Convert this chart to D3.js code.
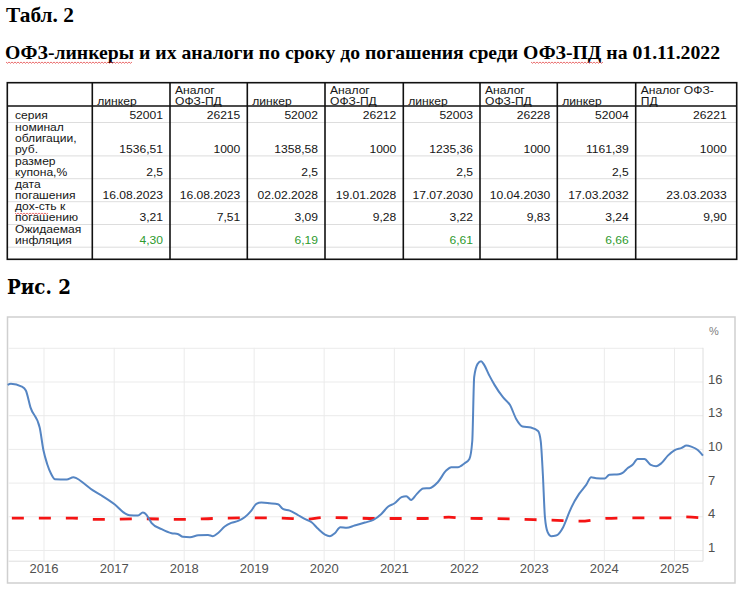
<!DOCTYPE html>
<html>
<head>
<meta charset="utf-8">
<script src="https://cdn.jsdelivr.net/npm/d3@7"></script>
<style>
  body { margin: 0; background: #fff; }
  svg { display: block; }
</style>
</head>
<body>
<script>
//Table data
var headerLines = [["линкер"], ["Аналог", "ОФЗ-ПД"], ["линкер"], ["Аналог", "ОФЗ-ПД"],
  ["линкер"], ["Аналог", "ОФЗ-ПД"], ["линкер"], ["Аналог ОФЗ-", "ПД"]];
var rowLabels = [["серия"], ["номинал", "облигации,", "руб."], ["размер", "купона,%"],
  ["дата", "погашения"], ["дох-сть к", "погашению"], ["Ожидаемая", "инфляция"]];
var seriesCodes = ["52001", "26215", "52002", "26212", "52003", "26228", "52004", "26221"];
var nominals = ["1536,51", "1000", "1358,58", "1000", "1235,36", "1000", "1161,39", "1000"];
var coupons = ["2,5", "", "2,5", "", "2,5", "", "2,5", ""];
var maturities = ["16.08.2023", "16.08.2023", "02.02.2028", "19.01.2028", "17.07.2030", "10.04.2030", "17.03.2032", "23.03.2033"];
var yields = ["3,21", "7,51", "3,09", "9,28", "3,22", "9,83", "3,24", "9,90"];
var expInflation = ["4,30", "", "6,19", "", "6,61", "", "6,66", ""];

//Chart data
var blueDates = ["2015-06-28", "2015-07-15", "2015-09-10", "2015-10-01", "2015-10-25", "2015-12-12",
  "2016-01-01", "2016-01-20", "2016-02-10", "2016-03-01", "2016-05-01", "2016-06-05", "2016-06-20",
  "2016-08-01", "2016-09-15", "2016-10-30", "2017-01-07", "2017-02-28", "2017-03-25", "2017-05-08",
  "2017-06-02", "2017-06-20", "2017-07-03", "2017-07-18", "2017-09-08", "2017-10-30", "2017-12-01",
  "2017-12-28", "2018-02-03", "2018-03-18", "2018-05-08", "2018-06-02", "2018-06-28", "2018-08-03",
  "2018-09-06", "2018-10-12", "2018-11-15", "2018-12-20", "2019-01-15", "2019-02-10", "2019-03-25",
  "2019-05-08", "2019-06-02", "2019-07-08", "2019-08-18", "2019-09-24", "2019-10-30", "2019-12-03",
  "2020-01-08", "2020-02-03", "2020-02-28", "2020-03-28", "2020-04-30", "2020-06-10", "2020-08-03",
  "2020-09-16", "2020-10-28", "2020-12-03", "2021-01-05", "2021-02-10", "2021-03-07", "2021-04-01",
  "2021-04-28", "2021-06-03", "2021-07-06", "2021-08-18", "2021-10-01", "2021-10-27", "2021-12-01",
  "2022-01-05", "2022-01-30", "2022-02-14", "2022-02-24", "2022-03-14", "2022-04-01", "2022-04-16",
  "2022-05-15", "2022-06-10", "2022-07-24", "2022-08-30", "2022-10-01", "2022-11-03", "2022-12-17",
  "2023-01-23", "2023-02-06", "2023-02-17", "2023-02-28", "2023-03-14", "2023-04-01", "2023-04-27",
  "2023-06-03", "2023-07-05", "2023-07-16", "2023-08-25", "2023-10-01", "2023-10-27", "2023-11-22",
  "2024-01-05", "2024-01-30", "2024-03-20", "2024-04-08", "2024-05-05", "2024-05-30", "2024-06-25",
  "2024-07-31", "2024-09-02", "2024-09-30", "2024-10-27", "2024-11-30", "2025-01-05", "2025-02-10",
  "2025-03-07", "2025-04-01", "2025-05-05", "2025-06-01"];
var blueValues = [15.7, 15.8, 15.55, 15.2, 13.7, 11.9,
  9.85, 8.66, 7.77, 7.3, 7.27, 7.48, 7.4,
  6.9, 6.3, 5.85, 5.05, 4.27, 4.1, 4.07,
  4.33, 4.15, 3.8, 3.4, 2.85, 2.49, 2.43,
  2.17, 2.14, 2.31, 2.34, 2.23, 2.49, 3.09,
  3.41, 3.59, 3.92, 4.51, 5.1, 5.22, 5.16,
  5.07, 4.66, 4.5, 4.12, 3.77, 3.47, 2.88,
  2.37, 2.23, 2.49, 3.03, 2.97, 3.18, 3.44,
  3.68, 4.21, 4.87, 5.16, 5.7, 5.79, 5.46,
  5.93, 6.47, 6.5, 7.03, 8.07, 8.37, 8.37,
  8.72, 9.1, 10.7, 16.4, 17.57, 17.8, 17.5,
  16.5, 15.7, 14.6, 13.9, 12.67, 12.0, 11.9,
  11.6, 10.7, 7.77, 3.9, 2.58, 2.23, 2.28,
  3.03, 4.36, 4.8, 5.99, 6.8, 7.48, 7.39,
  7.36, 7.69, 7.74, 7.86, 8.3, 8.58, 9.1,
  9.1, 8.58, 8.46, 8.72, 9.4, 9.9, 10.09,
  10.3, 10.2, 9.9, 9.4];

var redDates = ["2015-07-20", "2016-06-01", "2016-10-01", "2017-06-01", "2018-01-01", "2018-06-01",
  "2019-01-01", "2019-06-01", "2019-10-01", "2020-01-01", "2020-06-01", "2020-10-01", "2021-06-01",
  "2021-10-15", "2022-01-01", "2022-09-01", "2023-01-01", "2023-06-01", "2023-09-01", "2024-01-01",
  "2024-06-01", "2025-01-01", "2025-02-01", "2025-06-01"];
var redValues = [3.83, 3.84, 3.72, 3.78, 3.72, 3.8,
  3.86, 3.83, 3.74, 3.9, 3.85, 3.8, 3.8,
  3.92, 3.83, 3.77, 3.7, 3.62, 3.56, 3.8,
  3.86, 3.86, 3.95, 3.85];

var xTickLabels = ["2016", "2017", "2018", "2019", "2020", "2021", "2022", "2023", "2024", "2025"];
var yTickLabels = [1, 4, 7, 10, 13, 16];

//Width and height
var w = 747;
var h = 592;

var svg = d3.select("body").append("svg").attr("width", w).attr("height", h);

//Spell-check squiggle under a word
var squiggle = function (x1, x2, yy) {
  var p = d3.path();
  p.moveTo(x1, yy);
  for (var xx = x1, k = 0; xx < x2; xx += 1.5, k++) {
    p.lineTo(xx + 1.5, yy + (k % 2 ? 0 : 1.3));
  }
  svg.append("path").attr("d", p.toString()).attr("fill", "none")
    .attr("stroke", "#e03030").attr("stroke-width", 0.7);
};

//Titles
svg.append("text")
  .attr("x", 6).attr("y", 22)
  .attr("font-family", "Liberation Serif").attr("font-weight", "bold")
  .attr("font-size", 21).attr("textLength", 68).attr("lengthAdjust", "spacingAndGlyphs")
  .text("Табл. 2");

svg.append("text")
  .attr("x", 5).attr("y", 59)
  .attr("font-family", "Liberation Serif").attr("font-weight", "bold")
  .attr("font-size", 19).attr("textLength", 715).attr("lengthAdjust", "spacingAndGlyphs")
  .text("ОФЗ-линкеры и их аналоги по сроку до погашения среди ОФЗ-ПД на 01.11.2022");
squiggle(6, 131, 62);
squiggle(531, 603, 62);

svg.append("text")
  .attr("x", 7).attr("y", 294)
  .attr("font-family", "DejaVu Serif").attr("font-weight", "bold")
  .attr("font-size", 21).attr("textLength", 64).attr("lengthAdjust", "spacingAndGlyphs")
  .text("Рис. 2");

//Table layout
var colX = [7.3, 92.3, 170, 247.3, 325, 403.3, 480, 557.3, 635.7, 736.7];
var tableTop = 82.7, headerBottom = 106, tableBottom = 259.3;
var lastBaselines = [119.3, 152.7, 175.5, 198.5, 221.3, 244];
var lineStep = 11;
var stretch = 1.1;
var tableRows = [seriesCodes, nominals, coupons, maturities, yields, expInflation];

var table = svg.append("g")
  .attr("font-family", "Liberation Sans, Arial, sans-serif")
  .attr("font-size", 11)
  .attr("fill", "#151515");

//Text placed with a slight horizontal stretch, like the source sheet
var cellText = function (tx, ty, s) {
  return table.append("text")
    .attr("transform", "translate(" + tx + "," + ty + ") scale(" + stretch + ",1)")
    .text(s);
};

//Row separators
table.selectAll("line.rowsep")
  .data(lastBaselines)
  .enter()
  .append("line")
  .attr("class", "rowsep")
  .attr("x1", colX[0]).attr("x2", colX[colX.length - 1])
  .attr("y1", function (d) { return d + 3.2; })
  .attr("y2", function (d) { return d + 3.2; })
  .attr("stroke", "#d4d4d4").attr("stroke-width", 0.8);

//Header line
table.append("line")
  .attr("x1", colX[0]).attr("x2", colX[colX.length - 1])
  .attr("y1", headerBottom).attr("y2", headerBottom)
  .attr("stroke", "#111").attr("stroke-width", 1.6);

//Column lines
table.selectAll("line.colsep")
  .data(colX.slice(1, -1))
  .enter()
  .append("line")
  .attr("class", "colsep")
  .attr("x1", function (d) { return d; })
  .attr("x2", function (d) { return d; })
  .attr("y1", tableTop).attr("y2", tableBottom)
  .attr("stroke", "#111").attr("stroke-width", 1.6);

//Outer border
table.append("rect")
  .attr("x", colX[0]).attr("y", tableTop)
  .attr("width", colX[colX.length - 1] - colX[0])
  .attr("height", tableBottom - tableTop)
  .attr("fill", "none").attr("stroke", "#111").attr("stroke-width", 1.6);

//Header texts
headerLines.forEach(function (lines, i) {
  lines.forEach(function (t, j) {
    cellText(colX[i + 1] + 5, 104.5 - (lines.length - 1 - j) * 10.5, t);
  });
});

//Row labels
rowLabels.forEach(function (lines, r) {
  lines.forEach(function (t, j) {
    cellText(15, lastBaselines[r] - (lines.length - 1 - j) * lineStep, t);
  });
});
squiggle(15, 48, 213);

//Values
tableRows.forEach(function (vals, r) {
  vals.forEach(function (d, i) {
    if (!d) return;
    cellText(colX[i + 2] - (i === vals.length - 1 ? 10 : 7), lastBaselines[r], d)
      .attr("text-anchor", "end")
      .attr("fill", r === 5 ? "#2d9a2d" : "#151515");
  });
});

//Chart frame
svg.append("rect")
  .attr("x", 7.5).attr("y", 317)
  .attr("width", 727.5).attr("height", 266)
  .attr("fill", "none").attr("stroke", "#cfcfcf").attr("stroke-width", 1.5);

var plotLeft = 8.5, plotRight = 703, plotTop = 347.8, plotBottom = 561.2;

var parseDate = d3.timeParse("%Y-%m-%d");
var yearDates = xTickLabels.map(function (s) { return parseDate(s + "-01-01"); });

//Create scale functions
var xScale = d3.scaleTime()
  .domain([yearDates[0], yearDates[yearDates.length - 1]])
  .range([43.5, 674]);
var yScale = d3.scaleLinear()
  .domain([0, 19])
  .range([plotBottom, plotTop]);

//Grid
svg.append("g")
  .attr("class", "grid")
  .attr("transform", "translate(0," + plotBottom + ")")
  .call(d3.axisBottom(xScale).tickValues(yearDates).tickSize(-(plotBottom - plotTop)).tickFormat(""))
  .call(function (g) { g.select(".domain").remove(); })
  .selectAll("line").attr("stroke", "#ebebeb");

svg.append("g")
  .attr("class", "grid")
  .attr("transform", "translate(" + plotRight + ",0)")
  .call(d3.axisRight(yScale).tickValues(d3.range(1, 20, 3)).tickSize(-(plotRight - plotLeft)).tickFormat(""))
  .call(function (g) { g.select(".domain").remove(); })
  .selectAll("line").attr("stroke", "#ebebeb");

//Axis lines
svg.append("line")
  .attr("x1", plotLeft).attr("x2", plotRight)
  .attr("y1", plotBottom).attr("y2", plotBottom)
  .attr("stroke", "#dedede");
svg.append("line")
  .attr("x1", plotRight).attr("x2", plotRight)
  .attr("y1", plotTop).attr("y2", plotBottom)
  .attr("stroke", "#dedede");

//Define axes
var xAxis = d3.axisBottom(xScale).tickValues(yearDates).tickSize(0).tickPadding(3)
  .tickFormat(function (d, i) { return xTickLabels[i]; });
var yAxis = d3.axisRight(yScale).tickValues(yTickLabels).tickSize(0).tickPadding(5);

svg.append("g")
  .attr("class", "axis")
  .attr("transform", "translate(0," + plotBottom + ")")
  .call(xAxis)
  .call(function (g) { g.select(".domain").remove(); })
  .selectAll("text")
  .attr("font-family", "Liberation Sans, Arial, sans-serif")
  .attr("font-size", 13).attr("fill", "#505050");

svg.append("g")
  .attr("class", "axis")
  .attr("transform", "translate(" + plotRight + ",0)")
  .call(yAxis)
  .call(function (g) { g.select(".domain").remove(); })
  .selectAll("text")
  .attr("dy", "0.12em")
  .attr("font-family", "Liberation Sans, Arial, sans-serif")
  .attr("font-size", 13).attr("fill", "#505050");

svg.append("text")
  .attr("x", 709).attr("y", 335)
  .attr("font-family", "Liberation Sans, Arial, sans-serif")
  .attr("font-size", 11).attr("fill", "#808080")
  .text("%");

//Define line generator
var line = d3.line()
  .x(function (d) { return xScale(d.date); })
  .y(function (d) { return yScale(d.value); })
  .curve(d3.curveMonotoneX);

var blueData = blueDates.map(function (s, i) { return { date: parseDate(s), value: blueValues[i] }; });
var redData = redDates.map(function (s, i) { return { date: parseDate(s), value: redValues[i] }; });

//Create lines
svg.append("path")
  .datum(redData)
  .attr("d", line)
  .attr("fill", "none")
  .attr("stroke", "#f51414")
  .attr("stroke-width", 2.8)
  .attr("stroke-dasharray", "12,15");

svg.append("path")
  .datum(blueData)
  .attr("d", line)
  .attr("fill", "none")
  .attr("stroke", "#5585c3")
  .attr("stroke-width", 2)
  .attr("stroke-linejoin", "round");
</script>
</body>
</html>
